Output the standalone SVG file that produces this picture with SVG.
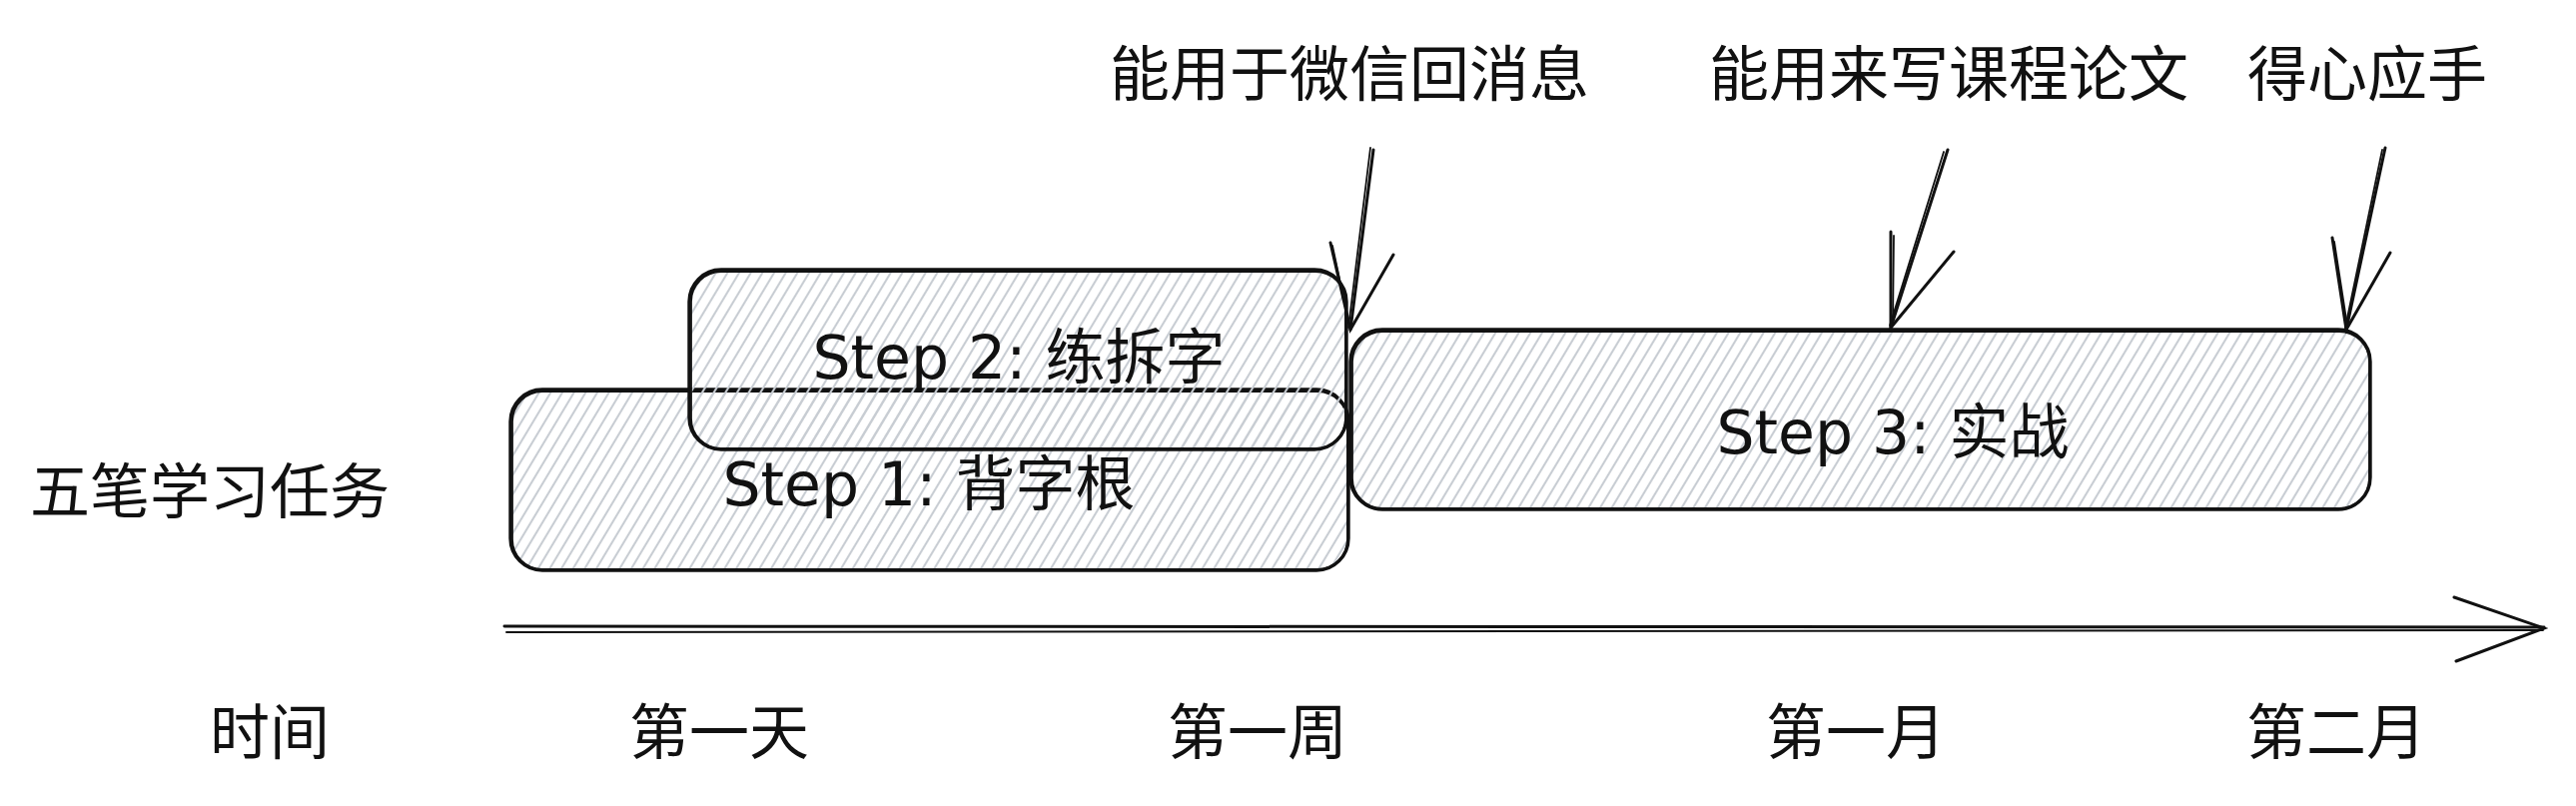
<svg xmlns="http://www.w3.org/2000/svg" width="2579" height="807" viewBox="0 0 2579 807">
<style>
.box{fill:url(#hatch);stroke:none}
.edge{fill:none;stroke:#111111;stroke-width:3.4;stroke-linecap:round;stroke-linejoin:round}
.edge2{fill:none;stroke:#111111;stroke-width:1.8;stroke-linecap:round;stroke-linejoin:round}
.ln{fill:none;stroke:#111111;stroke-width:3;stroke-linecap:round}
.ln2{fill:none;stroke:#111111;stroke-width:1.8;stroke-linecap:round}
.t{font-family:"DejaVu Sans","Noto Sans CJK SC",sans-serif;font-size:60px;fill:#111111;text-anchor:middle}
.c{font-family:"Noto Sans CJK SC",sans-serif;font-size:60px;fill:#111111;text-anchor:middle}
</style>
<defs>
<pattern id="hatch" patternUnits="userSpaceOnUse" width="10" height="10" patternTransform="rotate(31)">
<line x1="5" y1="-1" x2="5" y2="11" stroke="#c8cdd3" stroke-width="2.1"/>
</pattern>
</defs>
<rect width="2579" height="807" fill="#ffffff"/>

<g id="label-task"><text class="c" x="210" y="514">五笔学习任务</text></g>

<g id="step1">
<rect class="box" x="511" y="390" width="839" height="181" rx="32"/>
<rect class="edge" x="511" y="390" width="839" height="181" rx="32"/>
<rect class="edge2" x="513" y="392" width="836" height="178" rx="30"/>
<text class="t" x="930" y="506">Step 1: 背字根</text>
</g>

<g id="step2">
<rect class="box" x="690" y="270" width="658" height="180" rx="32"/>
<rect class="edge" x="690" y="270" width="658" height="180" rx="32"/>
<rect class="edge2" x="692" y="272" width="655" height="177" rx="30"/>
<text class="t" x="1020" y="379">Step 2: 练拆字</text>
</g>

<g id="step3">
<rect class="box" x="1352" y="330" width="1021" height="180" rx="32"/>
<rect class="edge" x="1352" y="330" width="1021" height="180" rx="32"/>
<rect class="edge2" x="1354" y="332" width="1018" height="177" rx="30"/>
<text class="t" x="1895" y="454">Step 3: 实战</text>
</g>

<g id="milestone1"><text class="c" x="1351" y="96">能用于微信回消息</text></g>
<g id="milestone2"><text class="c" x="1951" y="96">能用来写课程论文</text></g>
<g id="milestone3"><text class="c" x="2370" y="96">得心应手</text></g>

<g id="tick-time"><text class="c" x="270" y="755">时间</text></g>
<g id="tick-day1"><text class="c" x="720" y="755">第一天</text></g>
<g id="tick-week1"><text class="c" x="1259" y="755">第一周</text></g>
<g id="tick-month1"><text class="c" x="1858" y="755">第一月</text></g>
<g id="tick-month2"><text class="c" x="2339" y="755">第二月</text></g>

<g id="connectors">
<!-- time axis -->
<path class="ln" d="M505 627 L2547 628"/>
<path class="ln2" d="M507 633 L2546 631"/>
<path class="ln" d="M2457 598 L2547 629 L2459 662"/>
<!-- arrow 1 -->
<path class="ln" d="M1375 150 L1352 330"/>
<path class="ln2" d="M1372 148 L1350 328"/>
<path class="ln" d="M1332 243 L1352 330 L1395 255"/>
<path class="ln2" d="M1334 246 L1351 326"/>
<!-- arrow 2 -->
<path class="ln" d="M1950 150 L1893 328"/>
<path class="ln2" d="M1946 152 L1892 326"/>
<path class="ln" d="M1893 232 L1893 328 L1956 252"/>
<path class="ln2" d="M1896 236 L1895 325"/>
<!-- arrow 3 -->
<path class="ln" d="M2388 148 L2349 330"/>
<path class="ln2" d="M2385 150 L2348 328"/>
<path class="ln" d="M2335 238 L2349 330 L2393 253"/>
<path class="ln2" d="M2337 242 L2350 326"/>
</g>
</svg>
